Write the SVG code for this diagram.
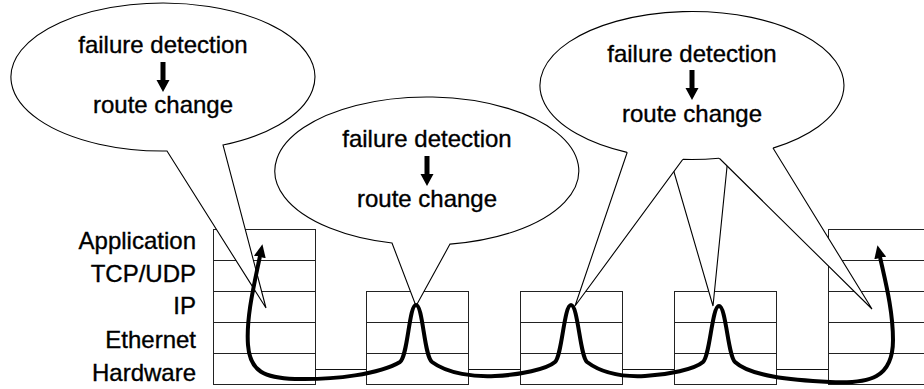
<svg xmlns="http://www.w3.org/2000/svg" xmlns:xlink="http://www.w3.org/1999/xlink" width="924" height="389" viewBox="0 0 924 389">
  <style>
    .box { fill: #fff; stroke: #222; stroke-width: 1; }
    .row { fill: none; stroke: #222; stroke-width: 1; }
    .wire { fill: none; stroke: #111; stroke-width: 1.2; }
    .bubble { fill: #fff; stroke: #000; stroke-width: 1.1; stroke-linejoin: miter; }
    .bubble-fill { fill: #fff; stroke: none; }
    .bubble-edge { fill: none; stroke: #000; stroke-width: 1.1; }
    .txt { font-family: "Liberation Sans", Arial, Helvetica, sans-serif; font-size: 24px; fill: #000; stroke: #000; stroke-width: 0.35; }
    .mid { text-anchor: middle; }
    .end { text-anchor: end; }
    .route { fill: none; stroke: #000; stroke-width: 4; stroke-linecap: round; stroke-linejoin: round; }
  </style>
  <defs>
    <!-- small downward arrow between the two lines of each bubble -->
    <path id="down-arrow" d="M-2.5,-15 H2.5 V3 H6.5 L0,15 L-6.5,3 H-2.5 Z" fill="#000"/>
    <!-- arrowhead for both ends of the route -->
    <marker id="head" markerUnits="userSpaceOnUse" viewBox="0 0 13 12" markerWidth="13" markerHeight="12" refX="1" refY="6" orient="auto-start-reverse">
      <path d="M0,0 L13,6 L0,12 Z" fill="#000"/>
    </marker>
  </defs>

  <!-- protocol layer names -->
  <g id="layer-labels" class="txt end">
    <text x="196" y="249">Application</text>
    <text x="196" y="281.5">TCP/UDP</text>
    <text x="196" y="314">IP</text>
    <text x="196" y="347.5">Ethernet</text>
    <text x="196" y="380.5">Hardware</text>
  </g>

  <!-- end host (left): full five-layer stack -->
  <g id="host-left">
    <rect class="box" x="213.5" y="229.5" width="102" height="155"/>
    <path class="row" d="M213.5,260.5 H315.5 M213.5,291.5 H315.5 M213.5,322.5 H315.5 M213.5,353.5 H315.5"/>
  </g>

  <!-- routers: IP / Ethernet / Hardware -->
  <g id="router-1">
    <rect class="box" x="366.5" y="291.5" width="102" height="93"/>
    <path class="row" d="M366.5,322.5 H468.5 M366.5,353.5 H468.5"/>
  </g>
  <g id="router-2">
    <rect class="box" x="520.5" y="291.5" width="102" height="93"/>
    <path class="row" d="M520.5,322.5 H622.5 M520.5,353.5 H622.5"/>
  </g>
  <g id="router-3">
    <rect class="box" x="674.5" y="291.5" width="102" height="93"/>
    <path class="row" d="M674.5,322.5 H776.5 M674.5,353.5 H776.5"/>
  </g>

  <!-- end host (right) -->
  <g id="host-right">
    <rect class="box" x="828.5" y="229.5" width="102" height="155"/>
    <path class="row" d="M828.5,260.5 H930.5 M828.5,291.5 H930.5 M828.5,322.5 H930.5 M828.5,353.5 H930.5"/>
  </g>

  <!-- physical links between the stacks -->
  <g id="links">
    <path class="wire" d="M315.5,369.5 H366.5 M468.5,369.5 H520.5 M622.5,369.5 H674.5 M776.5,369.5 H828.5"/>
  </g>

  <!-- bubble over the left host -->
  <g id="callout-1">
    <path class="bubble" d="M223,145 A152,74 0 1 0 167,151 L266,308 Z"/>
    <text class="txt mid" x="163" y="53">failure detection</text>
    <use xlink:href="#down-arrow" x="163" y="77"/>
    <text class="txt mid" x="163" y="113">route change</text>
  </g>

  <!-- bubble over the first router -->
  <g id="callout-2">
    <path class="bubble" d="M450,244.1 A152,74 0 1 0 392,243 L416,306 Z"/>
    <text class="txt mid" x="427" y="147">failure detection</text>
    <use xlink:href="#down-arrow" x="427" y="171"/>
    <text class="txt mid" x="427" y="207">route change</text>
  </g>

  <!-- shared bubble with three pointers: router 2, router 3, right host -->
  <g id="callout-3">
    <polygon class="bubble" points="664.7,140 713,306 729.7,140"/>
    <polygon class="bubble" points="631.4,140 575,306 697,140"/>
    <polygon class="bubble" points="700.8,140 872,309 765,135"/>
    <ellipse class="bubble-fill" cx="692" cy="85.5" rx="152" ry="74"/>
    <path class="bubble-edge" d="M773,148.1 A152,74 0 1 0 627,152.4 M683,159.4 A152,74 0 0 0 719,158.3"/>
    <text class="txt mid" x="692" y="61.5">failure detection</text>
    <use xlink:href="#down-arrow" x="692" y="85"/>
    <text class="txt mid" x="692" y="121.5">route change</text>
  </g>

  <!-- end-to-end path: up the host stacks, bouncing at the IP layer of each router -->
  <g id="connectors">
    <path class="route" marker-start="url(#head)" marker-end="url(#head)"
      d="M260,256 C254,285 246,318 248,345
         C250,372 265,378 295,379
         C335,380 380,374 400,362
         C408,356 409,305 416,305
         C423,305 424,356 432,362
         C448,374 475,377 495,376
         C520,375 547,369 555,362
         C562,356 564,305 571,305
         C578,305 580,356 587,362
         C603,374 625,377 645,376
         C668,375 695,369 703,362
         C710,356 712,306 719,306
         C726,306 728,356 735,362
         C750,376 790,380 830,382
         C870,384 893,378 893,340
         C893,310 885,280 880,257"/>
  </g>
</svg>
